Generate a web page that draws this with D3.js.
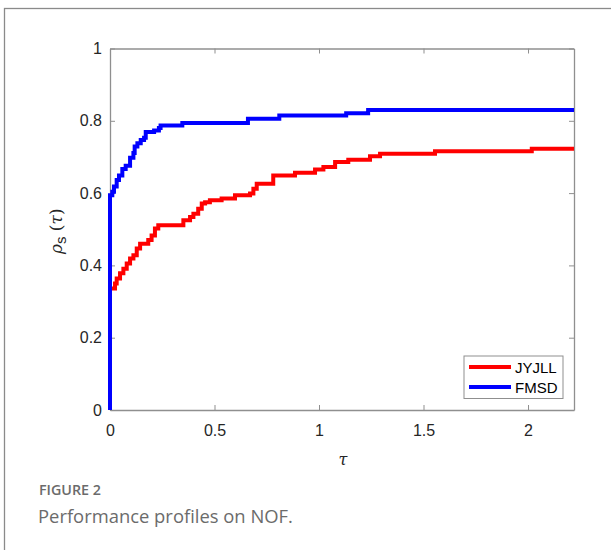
<!DOCTYPE html>
<meta charset="utf-8">
<script src="https://d3js.org/d3.v7.min.js"></script>
<style>
  body { margin: 0; background: #fff; }
  svg { display: block; }
</style>
<div id="chart"></div>
<script>

// performance profile values (tau, rho_s)
var jyjllTau = [0, 0, 0.024, 0.032, 0.048, 0.064, 0.08, 0.096, 0.112, 0.128, 0.144, 0.183, 0.199, 0.215, 0.231,
                0.351, 0.383, 0.399, 0.422, 0.439, 0.455, 0.478, 0.534, 0.598, 0.67, 0.686, 0.702, 0.781,
                0.885, 0.981, 1.021, 1.077, 1.14, 1.244, 1.292, 1.555, 2.018, 2.22];
var jyjllRho = [0, 0.336, 0.35, 0.364, 0.378, 0.391, 0.405, 0.419, 0.428, 0.447, 0.46, 0.47, 0.483, 0.502, 0.511,
                0.525, 0.534, 0.543, 0.557, 0.571, 0.575, 0.58, 0.585, 0.594, 0.599, 0.612, 0.626, 0.649,
                0.656, 0.665, 0.672, 0.686, 0.692, 0.702, 0.709, 0.716, 0.723, 0.723];

var fmsdTau = [0, 0, 0.011, 0.019, 0.032, 0.043, 0.059, 0.075, 0.096, 0.112, 0.118, 0.131, 0.147, 0.163, 0.171,
               0.211, 0.234, 0.242, 0.346, 0.66, 0.81, 1.13, 1.235, 2.22];
var fmsdRho = [0, 0.594, 0.604, 0.618, 0.636, 0.649, 0.667, 0.676, 0.698, 0.711, 0.729, 0.738, 0.747, 0.753, 0.769,
               0.773, 0.78, 0.787, 0.794, 0.806, 0.815, 0.821, 0.83, 0.83];

var seriesNames = ["JYJLL", "FMSD"];
var seriesColors = ["#ff0000", "#0000ff"];
var xTicks = [0, 0.5, 1, 1.5, 2];
var yTicks = [0, 0.2, 0.4, 0.6, 0.8, 1];

var W = 611, H = 550;
var margin = {left: 110, right: 37, top: 48.5, bottom: 140};
var width = W - margin.left - margin.right,
    height = H - margin.top - margin.bottom;

var svg = d3.select("#chart").append("svg")
    .attr("width", W)
    .attr("height", H);

// outer frame of the figure panel
svg.append("rect")
    .attr("x", 4.5).attr("y", 8.5)
    .attr("width", 640).attr("height", 600)
    .attr("fill", "none")
    .attr("stroke", "#8a8a8a")
    .attr("stroke-width", 1.3);

var g = svg.append("g")
    .attr("transform", "translate(" + margin.left + "," + margin.top + ")");

var x = d3.scaleLinear().domain([0, 2.22]).range([0, width]);
var y = d3.scaleLinear().domain([0, 1]).range([height, 0]);

var axisColor = "#8f8f8f";
var labelFont = "'Liberation Sans', Arial, sans-serif";

// axes: ticks point inward, mirrored on top/right
var axB = g.append("g").attr("transform", "translate(0," + height + ")")
    .call(d3.axisBottom(x).tickValues(xTicks).tickSizeInner(-5).tickSizeOuter(0).tickPadding(14.5)
        .tickFormat(d3.format("")));
var axT = g.append("g")
    .call(d3.axisTop(x).tickValues(xTicks).tickSizeInner(-5).tickSizeOuter(0).tickFormat(""));
var axL = g.append("g")
    .call(d3.axisLeft(y).tickValues(yTicks).tickSizeInner(-5).tickSizeOuter(0).tickPadding(8)
        .tickFormat(d3.format("")));
var axR = g.append("g").attr("transform", "translate(" + width + ",0)")
    .call(d3.axisRight(y).tickValues(yTicks).tickSizeInner(-5).tickSizeOuter(0).tickFormat(""));

[axB, axT, axL, axR].forEach(function(a) {
  a.select(".domain").attr("stroke", axisColor).attr("stroke-width", 1.3);
  a.selectAll(".tick line").attr("stroke", axisColor);
  a.selectAll(".tick text")
      .attr("fill", "#262626")
      .style("font-family", labelFont)
      .style("font-size", "16px");
});

// stairs lines
var line = d3.line()
    .x(function(d) { return x(d[0]); })
    .y(function(d) { return y(d[1]); })
    .curve(d3.curveStepAfter);

var seriesData = [
  d3.zip(jyjllTau, jyjllRho),
  d3.zip(fmsdTau, fmsdRho)
];

seriesData.forEach(function(pts, i) {
  g.append("path")
      .datum(pts)
      .attr("fill", "none")
      .attr("stroke", seriesColors[i])
      .attr("stroke-width", 4)
      .attr("d", line);
});

// legend
var legend = g.append("g").attr("transform", "translate(" + (464 - margin.left) + "," + (356 - margin.top) + ")");
legend.append("rect")
    .attr("width", 99).attr("height", 42.5)
    .attr("fill", "#fff")
    .attr("stroke", axisColor)
    .attr("stroke-width", 1);
seriesNames.forEach(function(name, i) {
  var yy = 11 + i * 20;
  legend.append("line")
      .attr("x1", 5).attr("x2", 47)
      .attr("y1", yy).attr("y2", yy)
      .attr("stroke", seriesColors[i])
      .attr("stroke-width", 4);
  legend.append("text")
      .attr("x", 51).attr("y", yy + 5.5)
      .attr("fill", "#000")
      .style("font-family", labelFont)
      .style("font-size", "15px")
      .text(name);
});

// axis labels
g.append("text")
    .attr("x", width / 2 + 1).attr("y", height + 55)
    .attr("text-anchor", "middle")
    .style("font-family", "'DejaVu Serif', 'Liberation Serif', serif")
    .style("font-style", "italic")
    .style("font-size", "16px")
    .attr("fill", "#262626")
    .text("τ");

var ylab = g.append("text")
    .attr("transform", "translate(-48," + (height / 2 + 2) + ") rotate(-90)")
    .attr("text-anchor", "middle")
    .style("font-family", "'DejaVu Serif', 'Liberation Serif', serif")
    .style("font-size", "17px")
    .attr("fill", "#262626");
ylab.append("tspan").style("font-style", "italic").text("ρ");
ylab.append("tspan").attr("dy", 4).style("font-family", labelFont).style("font-size", "15px").text("s");
ylab.append("tspan").attr("dy", -4).text(" (");
ylab.append("tspan").style("font-style", "italic").text("τ");
ylab.append("tspan").text(")");

// caption
svg.append("text")
    .attr("x", 39).attr("y", 495)
    .style("font-family", "'Open Sans', sans-serif")
    .style("font-weight", 600)
    .style("font-size", "14.3px")
    .attr("fill", "#6b6b6b")
    .text("FIGURE 2");

svg.append("text")
    .attr("x", 38).attr("y", 523)
    .style("font-family", "'Open Sans', sans-serif")
    .style("font-size", "18.4px")
    .attr("fill", "#6b6b6b")
    .text("Performance profiles on NOF.");

</script>
